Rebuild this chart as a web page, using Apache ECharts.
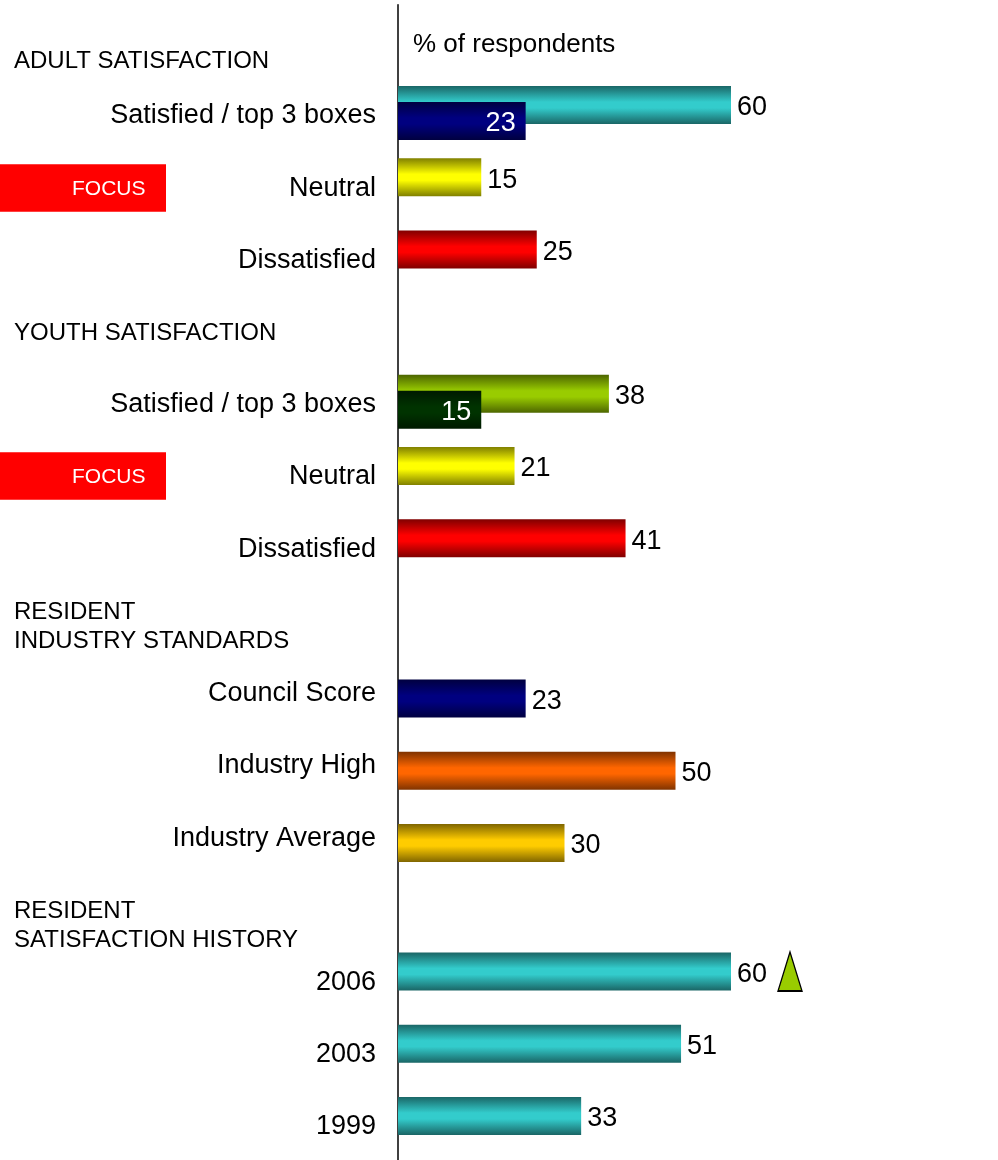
<!DOCTYPE html>
<html>
<head>
<meta charset="utf-8">
<script src="https://cdn.jsdelivr.net/npm/echarts@6/dist/echarts.min.js"></script>
<style>
  html, body { margin: 0; padding: 0; background: #ffffff; }
  #chart { width: 998px; height: 1160px; }
</style>
</head>
<body>
<div id="chart"></div>
<script>
// ---- data ----
const sectionHeaders = ['ADULT SATISFACTION', 'YOUTH SATISFACTION', 'RESIDENT\nINDUSTRY STANDARDS', 'RESIDENT\nSATISFACTION HISTORY'];

const adultLabels = ['Satisfied / top 3 boxes', 'Neutral', 'Dissatisfied'];
const adultValues = [60, 15, 25];
const adultCouncilSatisfied = 23;

const youthLabels = ['Satisfied / top 3 boxes', 'Neutral', 'Dissatisfied'];
const youthValues = [38, 21, 41];
const youthCouncilSatisfied = 15;

const standardLabels = ['Council Score', 'Industry High', 'Industry Average'];
const standardValues = [23, 50, 30];

const historyLabels = ['2006', '2003', '1999'];
const historyValues = [60, 51, 33];

const axisTitle = '% of respondents';
const focusText = 'FOCUS';

// ---- colours: [edge, centre] of each cylinder-style bar ----
const cyan = ['#1a6666', '#33cccc'];
const navy = ['#000040', '#000080'];
const yellow = ['#808000', '#ffff00'];
const red = ['#800000', '#ff0000'];
const lime = ['#4d6600', '#99cc00'];
const forest = ['#001a00', '#003300'];
const orange = ['#803300', '#ff6600'];
const gold = ['#806600', '#ffcc00'];

const FONT = 'Liberation Sans, Arial, Helvetica, sans-serif';

function tube(c) {
  return new echarts.graphic.LinearGradient(0, 0, 0, 1, [
    { offset: 0, color: c[0] },
    { offset: 0.42, color: c[1] },
    { offset: 0.58, color: c[1] },
    { offset: 1, color: c[0] }
  ]);
}

// One category row per line; blank rows hold the section headers.
const categories = [''].concat(adultLabels, [''], youthLabels, [''], standardLabels, [''], historyLabels);

function bar(v, colors, label) {
  if (v == null) return null;
  const item = { value: v, itemStyle: { color: tube(colors) } };
  if (label) item.label = label;
  return item;
}

const insideWhite = { position: 'insideRight', color: '#ffffff', distance: 10 };

// first slot of each row
const mainData = [
  null,
  bar(adultValues[0], cyan), bar(adultValues[1], yellow), bar(adultValues[2], red),
  null,
  bar(youthValues[0], lime), bar(youthValues[1], yellow), bar(youthValues[2], red),
  null,
  null, null, null,
  null,
  bar(historyValues[0], cyan), bar(historyValues[1], cyan), bar(historyValues[2], cyan)
];

// second slot of each row (overlaps the first)
const secondData = [
  null,
  bar(adultCouncilSatisfied, navy, insideWhite), null, null,
  null,
  bar(youthCouncilSatisfied, forest, insideWhite), null, null,
  null,
  bar(standardValues[0], navy), bar(standardValues[1], orange), bar(standardValues[2], gold),
  null,
  null, null, null
];

const rowH = 72.3;
const gridTop = 4.65;

const headerTops = [49.5, 321.7, 597.5, 896.5];

const titles = [
  {
    text: axisTitle, left: 413, top: 31.5, padding: 0,
    textStyle: { fontFamily: FONT, fontSize: 26, fontWeight: 'normal', color: '#000', lineHeight: 26 }
  }
].concat(sectionHeaders.map((h, i) => ({
  text: h, left: 14, top: headerTops[i], padding: 0,
  textStyle: { fontFamily: FONT, fontSize: 24, fontWeight: 'normal', color: '#000', lineHeight: i < 2 ? 24 : 29.5 }
})));

function focusBox(top) {
  return {
    type: 'group', left: 0, top: top,
    children: [
      { type: 'rect', shape: { x: 0, y: 0, width: 166, height: 47.5 }, style: { fill: '#ff0000' } },
      { type: 'text', x: 72, y: 25, style: { text: focusText, fill: '#ffffff', font: '21px ' + FONT, verticalAlign: 'middle', align: 'left' } }
    ]
  };
}

const valueLabel = {
  show: true, position: 'right', distance: 6, offset: [0, 3],
  fontFamily: FONT, fontSize: 27, color: '#000'
};

const chart = echarts.init(document.getElementById('chart'), null, { renderer: 'canvas' });
chart.setOption({
  backgroundColor: '#ffffff',
  animation: false,
  title: titles,
  grid: { left: 398, width: 555, top: gridTop, height: rowH * categories.length },
  xAxis: {
    type: 'value', min: 0, max: 100,
    show: false
  },
  yAxis: {
    type: 'category',
    inverse: true,
    data: categories,
    axisLine: { show: true, lineStyle: { color: '#000', width: 1.5 } },
    axisTick: { show: false },
    splitLine: { show: false },
    axisLabel: {
      margin: 22,
      formatter: (v) => (v ? '{c|' + v + '}' : ''),
      rich: { c: { padding: [6, 0, 0, 0], fontFamily: FONT, fontSize: 27, color: '#000' } }
    }
  },
  graphic: [focusBox(164.3), focusBox(452.3)],
  series: [
    {
      type: 'bar',
      data: mainData,
      barWidth: 38,
      barGap: '-58%',
      label: valueLabel,
      markPoint: {
        symbol: 'triangle',
        symbolSize: [24, 39],
        symbolOffset: [59, 0],
        itemStyle: { color: '#99cc00', borderColor: '#000', borderWidth: 1.5 },
        label: { show: false },
        data: [{ coord: [historyValues[0], 13] }]
      }
    },
    {
      type: 'bar',
      data: secondData,
      barWidth: 38,
      barGap: '-58%',
      label: valueLabel
    }
  ]
});
</script>
</body>
</html>
